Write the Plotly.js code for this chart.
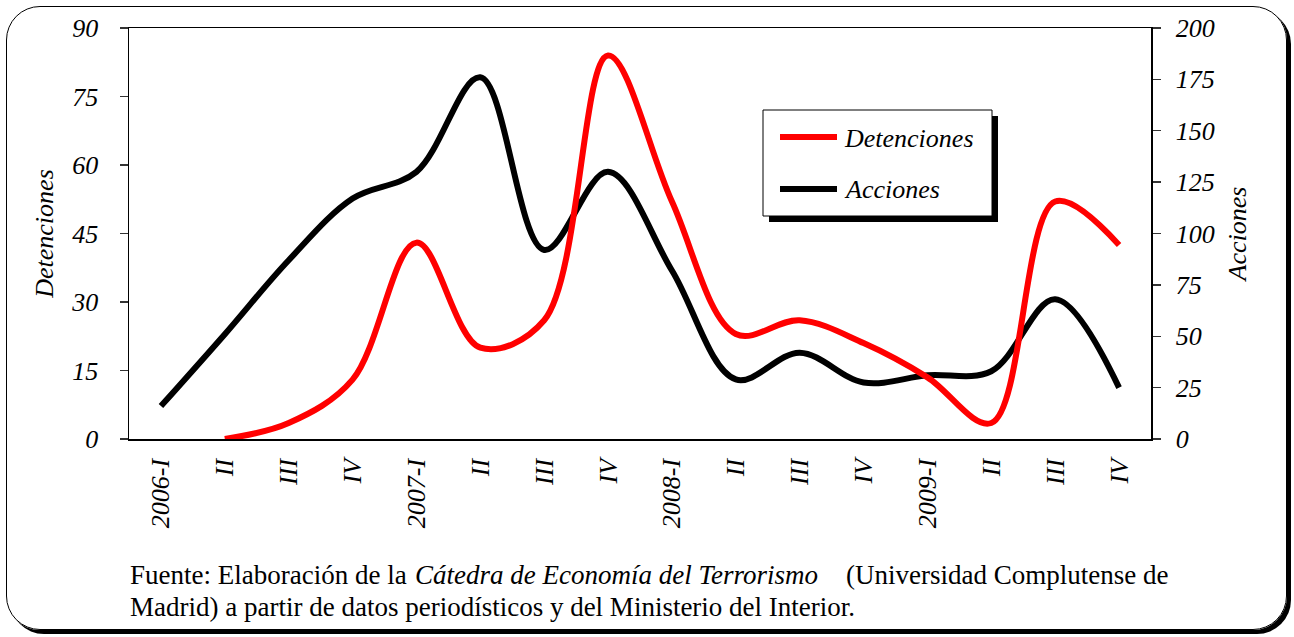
<!DOCTYPE html>
<html>
<head>
<meta charset="utf-8">
<script src="https://cdn.plot.ly/plotly-3.0.1.min.js"></script>
<style>
  html, body { margin: 0; padding: 0; background: #fff; }
  #wrap { position: relative; width: 1294px; height: 637px; }
  #chart { position: absolute; left: 0; top: 0; width: 1294px; height: 637px; }
  #frame { position: absolute; left: 6px; top: 6px; width: 1279px; height: 622px;
           border: 1.6px solid #000; border-radius: 34px; box-shadow: 4px 4px 0 0 #000;
           pointer-events: none; }
</style>
</head>
<body>
<div id="wrap">
  <div id="chart"></div>
  <div id="frame"></div>
</div>
<script>
// ---- data ----
const quarterLabels = ["2006-I","II","III","IV","2007-I","II","III","IV","2008-I","II","III","IV","2009-I","II","III","IV"];
const detenciones = [null, 0, 3.5, 13, 43, 20, 26, 84, 52, 23, 26, 21, 13.5, 3.5, 52, 42.5];
const acciones    = [16, 51, 87, 117, 130, 176, 92, 130, 82, 29, 42, 27.5, 31, 33, 68, 25];
const seriesNames = ["Detenciones", "Acciones"];
const leftTicks  = [0, 15, 30, 45, 60, 75, 90];
const rightTicks = [0, 25, 50, 75, 100, 125, 150, 175, 200];
const footLine1a = "Fuente: Elaboración de la";
const footLine1b = "<i>Cátedra de Economía del Terrorismo</i>";
const footLine1c = "(Universidad Complutense de";
const footLine2 = "Madrid) a partir de datos periodísticos y del Ministerio del Interior.";

const xIdx = quarterLabels.map((_, i) => i);
const bounds = quarterLabels.map((_, i) => i - 0.5).concat([quarterLabels.length - 0.5]);
const xRange = [-0.5, quarterLabels.length - 0.5];

const FONT = "Liberation Serif, Times New Roman, serif";

// pixel -> paper helpers (plot area: x 129..1151, y 28..439)
const L = 129, R = 1151, T = 28, B = 439;
const px = v => (v - L) / (R - L);
const py = v => (B - v) / (B - T);

const traces = [
  { x: xIdx, y: acciones, name: seriesNames[1], yaxis: "y", xaxis: "x",
    mode: "lines", line: { color: "#000000", width: 6, shape: "spline", smoothing: 1 },
    showlegend: false, hoverinfo: "skip" },
  { x: xIdx, y: detenciones, name: seriesNames[0], yaxis: "y2", xaxis: "x",
    mode: "lines", line: { color: "#ff0000", width: 6, shape: "spline", smoothing: 1 },
    connectgaps: false, showlegend: false, hoverinfo: "skip" }
];

const tickFont = { family: FONT, size: 26, color: "#000", style: "italic" };
const italic26 = { family: FONT, size: 26, color: "#000", style: "italic" };
const foot = { family: FONT, size: 27, color: "#000" };

const layout = {
  width: 1294, height: 637,
  margin: { l: L, r: 1294 - R, t: T, b: 637 - B, pad: 0 },
  paper_bgcolor: "#ffffff", plot_bgcolor: "#ffffff",
  showlegend: false,
  font: { family: FONT, color: "#000" },
  xaxis: {
    range: xRange, tickmode: "array", tickvals: xIdx, ticktext: quarterLabels,
    ticks: "", tickangle: -90, tickfont: tickFont, ticklabelstandoff: 8,
    showline: true, linecolor: "#000", linewidth: 1.5, mirror: true,
    showgrid: false, zeroline: false, fixedrange: true
  },
  xaxis2: {
    overlaying: "x", anchor: "y", side: "bottom", range: xRange,
    tickmode: "array", tickvals: bounds, ticks: "outside", ticklen: 9, tickwidth: 1.3, tickcolor: "#333",
    showticklabels: false, showline: false, showgrid: false, zeroline: false
  },
  xaxis3: {
    overlaying: "x", anchor: "y", side: "bottom", range: xRange,
    tickmode: "array", tickvals: bounds, ticks: "inside", ticklen: 9, tickwidth: 1.3, tickcolor: "#333",
    showticklabels: false, showline: false, showgrid: false, zeroline: false
  },
  yaxis: {
    side: "right", range: [0, 200], tickmode: "array", tickvals: rightTicks,
    ticks: "outside", ticklen: 8, tickwidth: 1.3, tickcolor: "#333",
    tickfont: tickFont, ticklabelstandoff: 10,
    showline: true, linecolor: "#000", linewidth: 1.5, showgrid: false, zeroline: false,
    title: { text: "Acciones", font: italic26, standoff: 14 }
  },
  yaxis2: {
    overlaying: "y", side: "left", range: [0, 90], tickmode: "array", tickvals: leftTicks,
    ticks: "outside", ticklen: 8, tickwidth: 1.3, tickcolor: "#333",
    tickfont: tickFont, ticklabelstandoff: 16,
    showline: true, linecolor: "#000", linewidth: 1.5, showgrid: false, zeroline: false,
    title: { text: "Detenciones", font: italic26, standoff: 10 }
  },
  yaxis3: {
    overlaying: "y", side: "left", range: [0, 90], tickmode: "array", tickvals: leftTicks,
    ticks: "inside", ticklen: 8, tickwidth: 1.3, tickcolor: "#333",
    showticklabels: false, showline: false, showgrid: false, zeroline: false
  },
  yaxis4: {
    overlaying: "y", side: "right", range: [0, 200], tickmode: "array", tickvals: rightTicks,
    ticks: "inside", ticklen: 8, tickwidth: 1.3, tickcolor: "#333",
    showticklabels: false, showline: false, showgrid: false, zeroline: false
  },
  shapes: [
    // legend shadow + box
    { type: "rect", xref: "paper", yref: "paper", x0: px(769), x1: px(998), y0: py(116), y1: py(222),
      fillcolor: "#000", line: { width: 0 }, layer: "above" },
    { type: "rect", xref: "paper", yref: "paper", x0: px(763), x1: px(992), y0: py(110), y1: py(216),
      fillcolor: "#fff", line: { color: "#000", width: 1 }, layer: "above" },
    { type: "line", xref: "paper", yref: "paper", x0: px(780), x1: px(837), y0: py(137), y1: py(137),
      line: { color: "#ff0000", width: 6 }, layer: "above" },
    { type: "line", xref: "paper", yref: "paper", x0: px(780), x1: px(837), y0: py(189), y1: py(189),
      line: { color: "#000000", width: 6 }, layer: "above" }
  ],
  annotations: [
    { xref: "paper", yref: "paper", x: px(842), y: py(138), xanchor: "left", yanchor: "middle",
      text: seriesNames[0], showarrow: false, font: italic26 },
    { xref: "paper", yref: "paper", x: px(842), y: py(190), xanchor: "left", yanchor: "middle",
      text: seriesNames[1], showarrow: false, font: italic26 },
    { xref: "paper", yref: "paper", x: px(128), y: py(575), xanchor: "left", yanchor: "middle",
      text: footLine1a, showarrow: false, font: foot },
    { xref: "paper", yref: "paper", x: px(413), y: py(575), xanchor: "left", yanchor: "middle",
      text: footLine1b, showarrow: false, font: foot },
    { xref: "paper", yref: "paper", x: px(1170), y: py(575), xanchor: "right", yanchor: "middle",
      text: footLine1c, showarrow: false, font: foot },
    { xref: "paper", yref: "paper", x: px(128), y: py(607), xanchor: "left", yanchor: "middle",
      text: footLine2, showarrow: false, font: foot }
  ]
};

Plotly.newPlot("chart", traces, layout, { staticPlot: true, displayModeBar: false });
</script>
</body>
</html>
